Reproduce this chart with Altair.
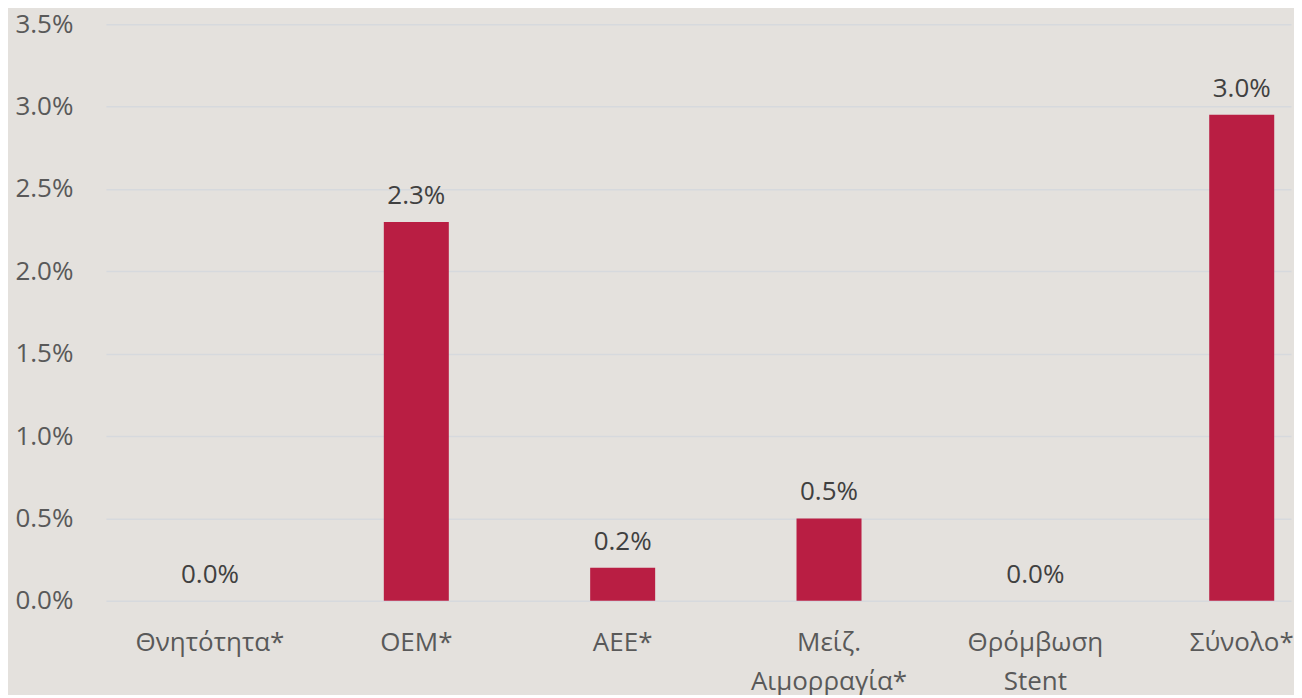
import altair as alt
import pandas as pd

categories = ["Θνητότητα*", "ΟΕΜ*", "ΑΕΕ*", "Μείζ.|Αιμορραγία*", "Θρόμβωση|Stent", "Σύνολο*"]
values = [0.0, 0.023, 0.002, 0.005, 0.0, 0.0295]
value_labels = ["0.0%", "2.3%", "0.2%", "0.5%", "0.0%", "3.0%"]
y_ticks = [0.0, 0.005, 0.01, 0.015, 0.02, 0.025, 0.03, 0.035]

df = pd.DataFrame({"cat": categories, "val": values, "lab": value_labels})

FONT = "Open Sans"

x = alt.X(
    "cat:N",
    sort=categories,
    title=None,
    scale=alt.Scale(paddingInner=0.685, paddingOuter=0.214, align=0.81),
    axis=alt.Axis(
        labelExpr="split(datum.label, '|')",
        labelAngle=0,
        labelFont=FONT,
        labelFontSize=26,
        labelColor="#595959",
        labelPadding=29,
        labelLineHeight=39,
        labelBaseline="top",
        domain=False,
        ticks=False,
        grid=False,
    ),
)

y = alt.Y(
    "val:Q",
    title=None,
    scale=alt.Scale(domain=[0, 0.035], nice=False),
    axis=alt.Axis(
        values=y_ticks,
        format=".1%",
        labelFont=FONT,
        labelFontSize=26,
        labelColor="#595959",
        labelPadding=33,
        domain=False,
        ticks=False,
        grid=True,
        gridColor="#d6d9dd",
        gridWidth=1.5,
    ),
)

bars = alt.Chart(df).mark_bar(color="#b91e43").encode(x=x, y=y)
text = alt.Chart(df).mark_text(
    baseline="bottom", dy=-13, font=FONT, fontSize=26, color="#404040"
).encode(x=alt.X("cat:N", sort=categories), y="val:Q", text="lab:N")

chart = (
    alt.layer(bars, text)
    .properties(
        width=1186,
        height=577,
        background="#e4e1dd",
        padding={"left": 6, "top": 3, "right": 0, "bottom": 0},
    )
    .configure_view(stroke=None)
)

chart.save("out.html", embed_options={"renderer": "svg", "actions": False})
